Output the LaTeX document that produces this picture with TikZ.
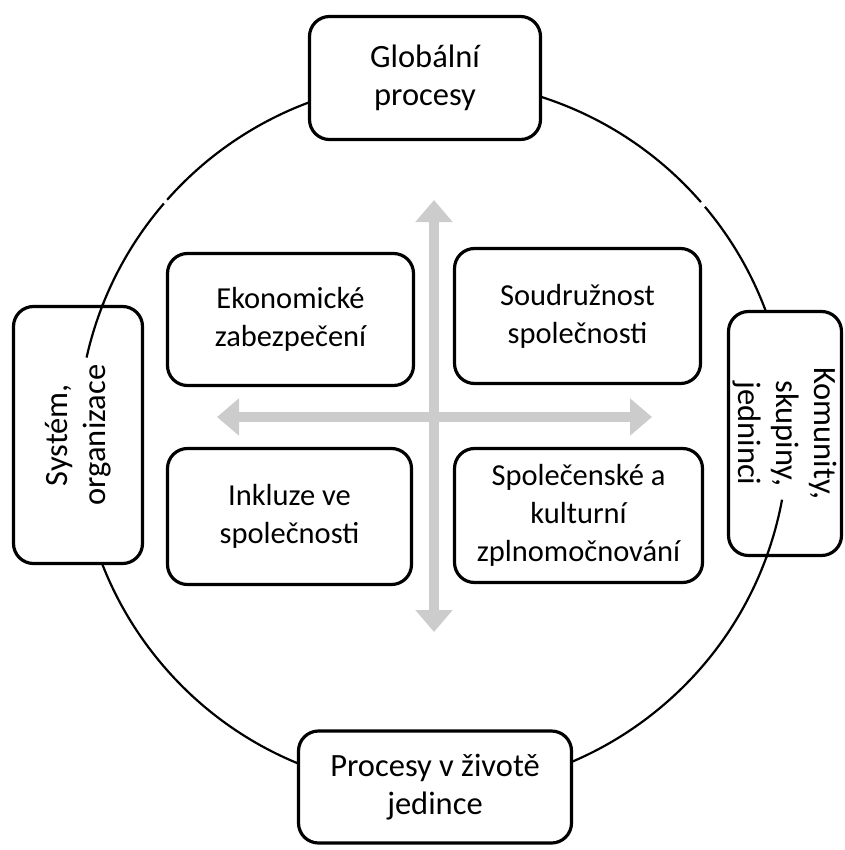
\documentclass[tikz,border=0pt]{standalone}
\usepackage{fontspec}
\setmainfont{Carlito}
\usetikzlibrary{arrows.meta}
\definecolor{axisgray}{HTML}{CCCCCC}
\begin{document}
\begin{tikzpicture}[x=1pt,y=-1pt,
  box/.style={draw=black, line width=3.2pt, rounded corners=20pt, fill=white,
    align=center, font=\fontsize{30.5}{38}\selectfont, inner sep=0pt},
  outerbox/.style={box, font=\fontsize{32.5}{38}\selectfont},
  ring/.style={draw=black, line width=2.2pt},
  axis/.style={draw=axisgray, line width=10pt,
    {Triangle[width=36pt,length=22pt]}-{Triangle[width=36pt,length=22pt]}}]
\useasboundingbox (0,0) rectangle (844,850);
% ring
\coordinate (c) at (433,435);
\draw[ring] (c) ++(221.5:355) arc[start angle=221.5, end angle=319, radius=355];
\draw[ring] (c) ++(320:355) arc[start angle=320, end angle=580.7, radius=355];
% axes
\coordinate (vt) at (434,200);
\coordinate (vb) at (434,632);
\coordinate (hl) at (217,417);
\coordinate (hr) at (652,417);
\draw[axis] (vb) -- (vt);
\draw[axis] (hl) -- (hr);
% outer boxes
\node[outerbox, minimum width=231pt, minimum height=123pt] (glob) at (425,78) {Globální\\procesy};
\node[outerbox, minimum width=273pt, minimum height=112pt] (proc) at (435,787) {Procesy v životě\\jedince};
\node[outerbox, rotate=90, minimum width=257pt, minimum height=129pt] (sys) at (78,435) {Systém,\\organizace};
\node[outerbox, rotate=-90, minimum width=244pt, minimum height=113pt] (kom) at (785,433.5) {Komunity,\\skupiny,\\jedninci};
% inner boxes
\node[box, minimum width=246pt, minimum height=132pt] (ekon) at (290.5,319.5) {Ekonomické\\zabezpečení};
\node[box, minimum width=246pt, minimum height=135pt] (soud) at (577.5,316) {Soudružnost\\společnosti};
\node[box, minimum width=244pt, minimum height=136pt] (inkl) at (289.5,516.5) {Inkluze ve\\společnosti};
\node[box, minimum width=248pt, minimum height=134pt] (spol) at (578.5,515.5) {Společenské a\\kulturní\\zplnomočnování};
% ring pieces over side boxes
\draw[ring] (c) ++(192.6:355) arc[start angle=192.6, end angle=201.8, radius=355];
\draw[ring] (c) ++(10.5:355) arc[start angle=10.5, end angle=20.3, radius=355];
\end{tikzpicture}
\end{document}
